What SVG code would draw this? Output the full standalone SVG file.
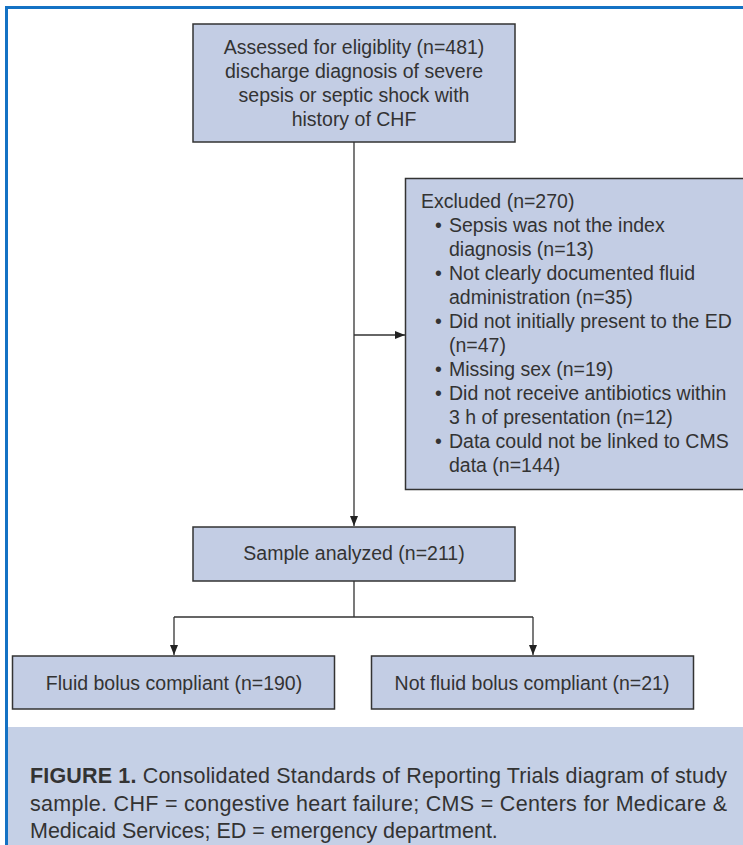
<svg xmlns="http://www.w3.org/2000/svg" width="743" height="845" viewBox="0 0 743 845">
<style>
.box{fill:#c3cde4;stroke:#333;stroke-width:1.5}
.t{font-family:"Liberation Sans",Arial,sans-serif;font-size:19.5px;fill:#333}
.c{text-anchor:middle}
.cap{font-family:"Liberation Sans",Arial,sans-serif;font-size:21.5px;fill:#333}
.ln{stroke:#333;stroke-width:1.3;fill:none}
</style>
<defs>
<marker id="ah" markerWidth="10" markerHeight="8" refX="10" refY="4" orient="auto" markerUnits="userSpaceOnUse">
<path d="M0,0 L10,4 L0,8 Z" fill="#222"/>
</marker>
</defs>
<rect x="0" y="0" width="743" height="845" fill="#fff"/>
<rect x="8" y="727" width="735" height="118" fill="#c5d0e6"/>
<path d="M6.5,845 V7.5 H743" fill="none" stroke="#1472c4" stroke-width="3"/>

<g id="connectors">
<path class="ln" d="M354,142 V526" marker-end="url(#ah)"/>
<path class="ln" d="M354,335 H405" marker-end="url(#ah)"/>
<path class="ln" d="M354,581 V617 M174,617 H533"/>
<path class="ln" d="M174,617 V655" marker-end="url(#ah)"/>
<path class="ln" d="M533,617 V655" marker-end="url(#ah)"/>
</g>

<g id="assessed">
<rect class="box" x="193" y="24" width="322" height="118"/>
<text class="t c" x="354" y="54">Assessed for eligiblity (n=481)</text>
<text class="t c" x="354" y="78">discharge diagnosis of severe</text>
<text class="t c" x="354" y="102">sepsis or septic shock with</text>
<text class="t c" x="354" y="126">history of CHF</text>
</g>

<g id="excluded">
<rect class="box" x="405.5" y="178.5" width="345" height="311"/>
<text class="t" x="421" y="208">Excluded (n=270)</text>
<text class="t" x="435" y="232">•</text><text class="t" x="449" y="232">Sepsis was not the index</text>
<text class="t" x="449" y="256">diagnosis (n=13)</text>
<text class="t" x="435" y="280">•</text><text class="t" x="449" y="280">Not clearly documented fluid</text>
<text class="t" x="449" y="304">administration (n=35)</text>
<text class="t" x="435" y="328">•</text><text class="t" x="449" y="328">Did not initially present to the ED</text>
<text class="t" x="449" y="352">(n=47)</text>
<text class="t" x="435" y="376">•</text><text class="t" x="449" y="376">Missing sex (n=19)</text>
<text class="t" x="435" y="400">•</text><text class="t" x="449" y="400">Did not receive antibiotics within</text>
<text class="t" x="449" y="424">3 h of presentation (n=12)</text>
<text class="t" x="435" y="448">•</text><text class="t" x="449" y="448">Data could not be linked to CMS</text>
<text class="t" x="449" y="472">data (n=144)</text>
</g>

<g id="sample">
<rect class="box" x="193" y="527" width="322" height="54"/>
<text class="t c" x="354" y="560">Sample analyzed (n=211)</text>
</g>

<g id="compliant">
<rect class="box" x="12.5" y="656" width="322" height="53"/>
<text class="t c" x="174" y="690">Fluid bolus compliant (n=190)</text>
</g>

<g id="notcompliant">
<rect class="box" x="371.5" y="656" width="322" height="53"/>
<text class="t c" x="532" y="690">Not fluid bolus compliant (n=21)</text>
</g>

<g id="caption">
<text class="cap" x="30" y="783" textLength="697" lengthAdjust="spacing"><tspan font-weight="bold">FIGURE 1.</tspan> Consolidated Standards of Reporting Trials diagram of study</text>
<text class="cap" x="30" y="811" textLength="697" lengthAdjust="spacing">sample. CHF = congestive heart failure; CMS = Centers for Medicare &amp;</text>
<text class="cap" x="30" y="838">Medicaid Services; ED = emergency department.</text>
</g>
</svg>
